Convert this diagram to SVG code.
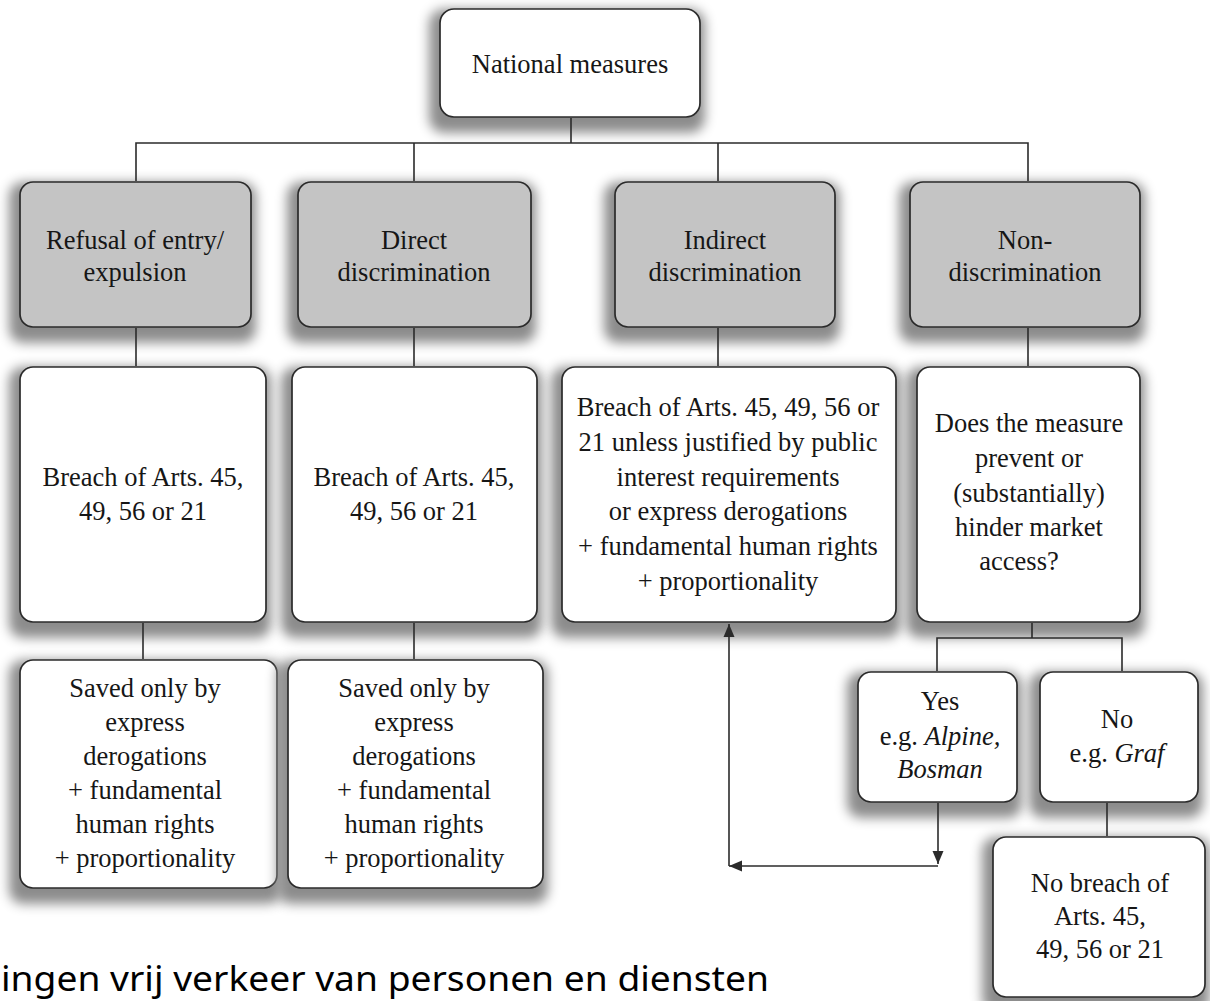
<svg xmlns="http://www.w3.org/2000/svg" width="1210" height="1001" viewBox="0 0 1210 1001">
<defs>
<style>
.box{fill:#ffffff;stroke:#2b2b2b;stroke-width:1.7;filter:url(#sh)}
.gray{fill:#c4c4c4;stroke:#2b2b2b;stroke-width:1.7;filter:url(#sh)}
.t{font-family:"Liberation Serif","Times New Roman",serif;font-size:26.5px;fill:#161616;text-anchor:middle}
.it{font-style:italic}
.c{fill:none;stroke:#2b2b2b;stroke-width:1.6}
.cap{font-family:"Noto Sans","Open Sans",sans-serif;font-size:34px;fill:#000}
</style>
<filter id="sh" x="-20%" y="-20%" width="140%" height="150%" color-interpolation-filters="sRGB">
<feMorphology in="SourceAlpha" operator="dilate" radius="7" result="d"/>
<feOffset in="d" dx="-3" dy="8" result="o"/>
<feGaussianBlur in="o" stdDeviation="6" result="b"/>
<feFlood flood-color="#8c8c8c" flood-opacity="1" result="f"/>
<feComposite in="f" in2="b" operator="in" result="s"/>
<feMerge><feMergeNode in="s"/><feMergeNode in="SourceGraphic"/></feMerge>
</filter>
<marker id="ah" viewBox="0 0 13 12" refX="13" refY="6" markerWidth="13" markerHeight="12" markerUnits="userSpaceOnUse" orient="auto">
<path d="M0,0.5 L13,6 L0,11.5 z" fill="#2b2b2b"/>
</marker>
</defs>
<rect width="1210" height="1001" fill="#ffffff"/>

<g id="n-national">
<rect class="box" x="440" y="9" width="260" height="108" rx="14"/>
<text class="t" x="570" y="73">National measures</text>
</g>

<g id="n-refusal">
<rect class="gray" x="20" y="182" width="231" height="145" rx="13"/>
<text class="t" x="135" y="249">Refusal of entry/</text>
<text class="t" x="135" y="281">expulsion</text>
</g>
<g id="n-direct">
<rect class="gray" x="298" y="182" width="233" height="145" rx="13"/>
<text class="t" x="414" y="249">Direct</text>
<text class="t" x="414" y="281">discrimination</text>
</g>
<g id="n-indirect">
<rect class="gray" x="615" y="182" width="220" height="145" rx="13"/>
<text class="t" x="725" y="249">Indirect</text>
<text class="t" x="725" y="281">discrimination</text>
</g>
<g id="n-nondisc">
<rect class="gray" x="910" y="182" width="230" height="145" rx="13"/>
<text class="t" x="1025" y="249">Non-</text>
<text class="t" x="1025" y="281">discrimination</text>
</g>

<g id="n-breach1">
<rect class="box" x="20" y="367" width="246" height="255" rx="13"/>
<text class="t" x="143" y="486">Breach of Arts. 45,</text>
<text class="t" x="143" y="520">49, 56 or 21</text>
</g>
<g id="n-breach2">
<rect class="box" x="292" y="367" width="245" height="255" rx="13"/>
<text class="t" x="414" y="486">Breach of Arts. 45,</text>
<text class="t" x="414" y="520">49, 56 or 21</text>
</g>
<g id="n-breach3">
<rect class="box" x="562" y="367" width="334" height="255" rx="13"/>
<text class="t" x="728" y="416">Breach of Arts. 45, 49, 56 or</text>
<text class="t" x="728" y="451">21 unless justified by public</text>
<text class="t" x="728" y="486">interest requirements</text>
<text class="t" x="728" y="520">or express derogations</text>
<text class="t" x="728" y="555">+ fundamental human rights</text>
<text class="t" x="728" y="590">+ proportionality</text>
</g>
<g id="n-question">
<rect class="box" x="917" y="367" width="223" height="255" rx="13"/>
<text class="t" x="1029" y="432">Does the measure</text>
<text class="t" x="1029" y="467">prevent or</text>
<text class="t" x="1029" y="502">(substantially)</text>
<text class="t" x="1029" y="536">hinder market</text>
<text class="t" x="1019" y="570">access?</text>
</g>

<g id="n-saved1">
<rect class="box" x="20" y="660" width="257" height="228" rx="13"/>
<text class="t" x="145" y="697">Saved only by</text>
<text class="t" x="145" y="731">express</text>
<text class="t" x="145" y="765">derogations</text>
<text class="t" x="145" y="799">+ fundamental</text>
<text class="t" x="145" y="833">human rights</text>
<text class="t" x="145" y="867">+ proportionality</text>
</g>
<g id="n-saved2">
<rect class="box" x="288" y="660" width="255" height="228" rx="13"/>
<text class="t" x="414" y="697">Saved only by</text>
<text class="t" x="414" y="731">express</text>
<text class="t" x="414" y="765">derogations</text>
<text class="t" x="414" y="799">+ fundamental</text>
<text class="t" x="414" y="833">human rights</text>
<text class="t" x="414" y="867">+ proportionality</text>
</g>

<g id="n-yes">
<rect class="box" x="858" y="672" width="159" height="130" rx="13"/>
<text class="t" x="940" y="710">Yes</text>
<text class="t" x="940" y="745">e.g. <tspan class="it">Alpine,</tspan></text>
<text class="t it" x="940" y="778">Bosman</text>
</g>
<g id="n-no">
<rect class="box" x="1040" y="672" width="158" height="130" rx="13"/>
<text class="t" x="1117" y="728">No</text>
<text class="t" x="1117" y="762">e.g. <tspan class="it">Graf</tspan></text>
</g>
<g id="n-nobreach">
<rect class="box" x="993" y="837" width="212" height="160" rx="13"/>
<text class="t" x="1100" y="892">No breach of</text>
<text class="t" x="1100" y="925">Arts. 45,</text>
<text class="t" x="1100" y="958">49, 56 or 21</text>
</g>

<g id="connectors">
<path class="c" d="M571,118 V143 M136,181 V143 H1028 V181 M414,143 V181 M718,143 V181"/>
<path class="c" d="M136,328 V366 M414,328 V366 M718,328 V366 M1028,328 V366"/>
<path class="c" d="M143,623 V659 M414,623 V659"/>
<path class="c" d="M1032,623 V638 M937,671 V638 H1122 V671"/>
<path class="c" d="M1107,803 V836"/>
<path class="c" d="M938,803 V864" marker-end="url(#ah)"/>
<path class="c" d="M938,866 H729" marker-end="url(#ah)"/>
<path class="c" d="M729,866 V624" marker-end="url(#ah)"/>
</g>

<text class="cap" x="1" y="991" textLength="768" lengthAdjust="spacingAndGlyphs">ingen vrij verkeer van personen en diensten</text>
</svg>
